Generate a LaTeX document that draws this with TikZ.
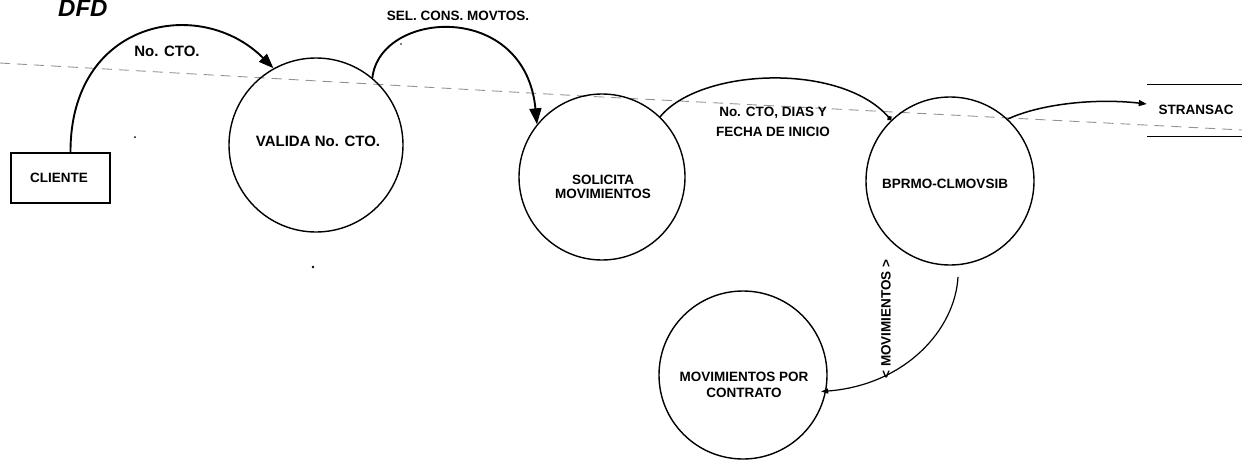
\documentclass[tikz,border=0pt]{standalone}
\usepackage{fontspec}
\setmainfont{Liberation Sans}
\usetikzlibrary{arrows.meta}
\begin{document}
\begin{tikzpicture}[x=1pt,y=-1pt,
  proc/.style={draw, circle, line width=1.4pt, inner sep=0pt},
  ext/.style={draw, rectangle, line width=1.3pt, inner sep=0pt},
  txt/.style={font=\bfseries\fontsize{13.5}{14}\selectfont, inner sep=0pt, align=center},
  bigtxt/.style={font=\bfseries\fontsize{15}{16}\selectfont, inner sep=0pt, align=center},
  thick flow/.style={line width=1.9pt},
  flow/.style={line width=1.5pt},
  guide/.style={gray!85, line width=0.9pt, dash pattern=on 10pt off 7pt}
]
\useasboundingbox (0,0) rectangle (1242,461);

% faint dashed guide line across the sheet
\draw[guide] (0,63) -- (583,96) -- (1242,130);

% title, cut by the top edge of the sheet
\node[font=\bfseries\itshape\fontsize{24}{24}\selectfont, anchor=base west, inner sep=0pt] (dfd) at (58,16) {DFD};

% external entity
\node[ext, minimum width=99pt, minimum height=50pt] (cl) at (60.5,178) {};
\node[txt] (clt) at (59,178) {CLIENTE};

% processes
\node[proc, minimum size=174pt] (val) at (316,145) {};
\node[bigtxt] (valt) at (318,141) {VALIDA No. CTO.};

\node[proc, minimum size=166pt] (sol) at (602,177) {};
\node[txt] (solt) at (603,187) {SOLICITA\\MOVIMIENTOS};

\node[proc, minimum size=168pt] (bp) at (950,181) {};
\node[txt] (bpt) at (945,184) {BPRMO-CLMOVSIB};

\node[proc, minimum size=168pt] (mov) at (743,375) {};
\node[txt, font=\bfseries\fontsize{13.5}{16}\selectfont] (movt) at (744,385) {MOVIMIENTOS POR\\CONTRATO};

% data store
\node[minimum width=95pt, minimum height=51pt, inner sep=0pt] (st) at (1194.5,110.5) {};
\node[txt] (stt) at (1196,110) {STRANSAC};
\draw[line width=1.3pt] (st.north west) -- (st.north east);
\draw[line width=1.3pt] (st.south west) -- (st.south east);

% free end of the last flow
\coordinate (m0) at (958,277);

% flows
\draw[thick flow, -{Triangle[length=15pt,width=11pt]}]
  ([xshift=10pt]cl.north) .. controls (70,20) and (200,-5) .. (val.119);
\node[bigtxt] (l1) at (167,51) {No. CTO.};

\draw[thick flow, -{Triangle[length=16pt,width=12pt]}]
  (val.50) .. controls (380,10) and (525,0) .. (sol.141);
\node[txt] (l2) at (458,16) {SEL. CONS. MOVTOS.};

\draw[flow, -{Circle[length=5pt]}]
  (sol.46) .. controls (700,68) and (840,62) .. (bp.134);
\node[txt, font=\bfseries\fontsize{13.5}{20}\selectfont] (l3) at (773,122) {No. CTO, DIAS Y\\FECHA DE INICIO};

\draw[flow, -{Triangle[length=8pt,width=6pt]}]
  (bp.47) .. controls (1040,104) and (1095,98) .. ([yshift=6.5pt]st.west);

\draw[line width=1.2pt, -{Triangle[length=7pt,width=5pt]}, shorten >=-5pt]
  (m0) .. controls (955,330) and (905,385) .. (mov.-11);
\node[txt, rotate=90] (l5) at (886,319) {< MOVIMIENTOS >};

% specks on the sheet
\fill (135,137) circle (1pt);
\fill (401,44) circle (0.9pt);
\fill (313,267) circle (1.3pt);
\end{tikzpicture}
\end{document}
